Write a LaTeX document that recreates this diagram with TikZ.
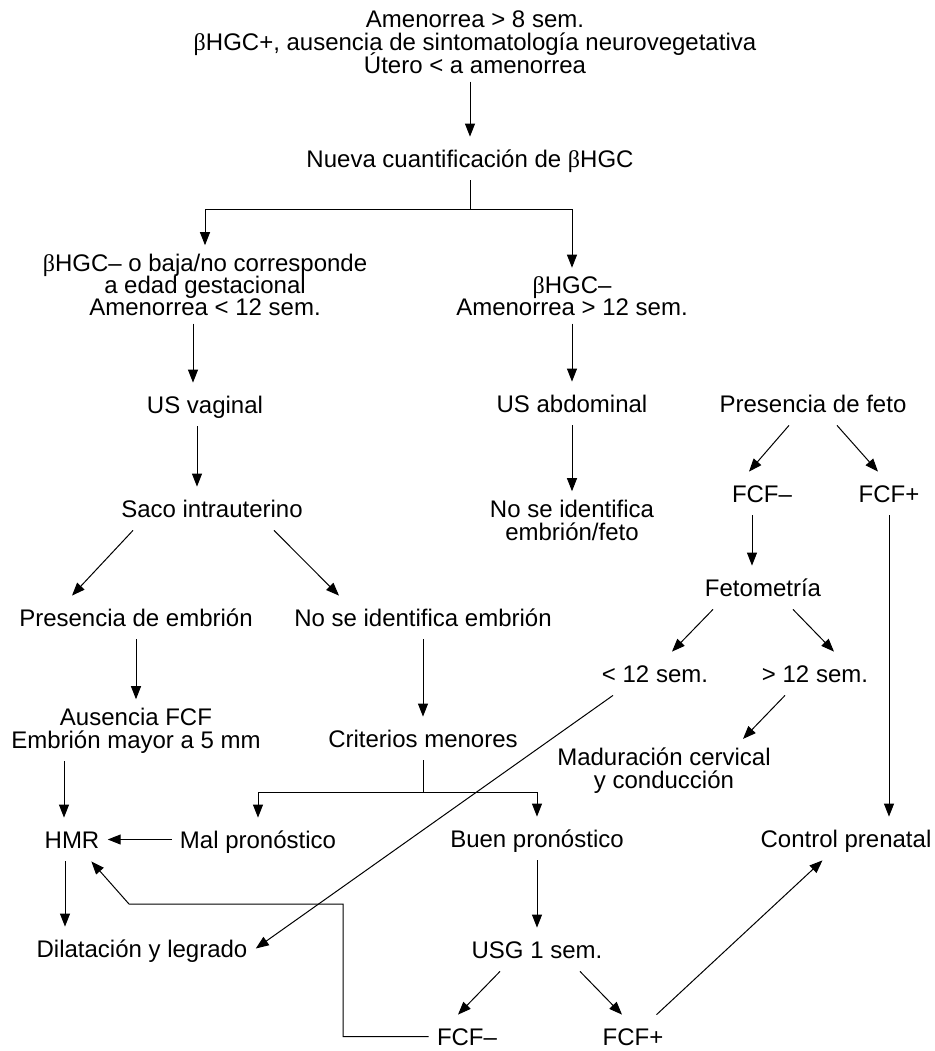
\documentclass[tikz,border=0pt]{standalone}
\usepackage{fontspec}
\setmainfont{Liberation Sans}
\newfontfamily\betafont{Liberation Serif}
\usetikzlibrary{arrows.meta, calc}
\newcommand{\bHGC}{{\betafont β}HGC}
\newcommand{\flatlines}{\lineskiplimit=-6pt\relax}

\begin{document}
\begin{tikzpicture}
                [x=0.5pt, y=-0.5pt,
                txt/.style={font=\fontsize{12pt}{11.5pt}\selectfont\flatlines, inner xsep=4pt, inner ysep=4pt, anchor=base},
                one/.style={txt, text height=11pt, text depth=2.5pt},
                many/.style={txt, align=center},
                tight/.style={many, font=\fontsize{12pt}{11pt}\selectfont\flatlines},
                arr/.style={-{Triangle[length=6.5pt, width=5pt]}, line width=0.5pt},
                lin/.style={line width=0.5pt}]
                \useasboundingbox (0,0) rectangle (935,1051);
                % nodes (multi-line ones sit on their last line)
                \node[many]  (top)    at (475,73)   {Amenorrea > 8 sem.\\ \bHGC+, ausencia de sintomatología neurovegetativa\\ Útero < a amenorrea};
                \node[one]   (nueva)  at (470,167)  {Nueva cuantificación de \bHGC};
                \node[tight] (bneg)   at (205,315)  {\bHGC– o baja/no corresponde\\ a edad gestacional\\ Amenorrea < 12 sem.};
                \node[tight] (bnegb)  at (572,315)  {\bHGC–\\ Amenorrea > 12 sem.};
                \node[one]   (usv)    at (205,413)  {US vaginal};
                \node[one]   (usa)    at (572,412)  {US abdominal};
                \node[one]   (pfeto)  at (813,412)  {Presencia de feto};
                \node[many]  (noid)   at (572,540)  {No se identifica\\ embrión/feto};
                \node[one]   (fcfn)   at (762,502)  {FCF–};
                \node[one]   (fcfp)   at (889,502)  {FCF+};
                \node[one]   (feto)   at (763,596)  {Fetometría};
                \node[one]   (men12)  at (655,682)  {< 12 sem.};
                \node[one]   (may12)  at (815,682)  {> 12 sem.};
                \node[many]  (madur)  at (664,788)  {Maduración cervical\\ y conducción};
                \node[one]   (saco)   at (212,517)  {Saco intrauterino};
                \node[one]   (pemb)   at (136,626)  {Presencia de embrión};
                \node[one]   (noemb)  at (423,626)  {No se identifica embrión};
                \node[many]  (ausen)  at (136,748)  {Ausencia FCF\\ Embrión mayor a 5 mm};
                \node[one]   (crit)   at (423,747)  {Criterios menores};
                \node[one]   (hmr)    at (72,848)   {HMR};
                \node[one]   (mal)    at (258,848)  {Mal pronóstico};
                \node[one]   (buen)   at (537,847)  {Buen pronóstico};
                \node[one]   (control) at (846,847) {Control prenatal};
                \node[one]   (dilat)  at (142,957)  {Dilatación y legrado};
                \node[one]   (usg)    at (537,958)  {USG 1 sem.};
                \node[one]   (fcfnb)  at (467,1045) {FCF–};
                \node[one]   (fcfpb)  at (633,1045) {FCF+};
                \coordinate (s1) at (470,209);
                \coordinate (s2) at (423,792);
                \coordinate (c1) at (343,904);
                \coordinate (c2) at (129,904);
                % arrows
                \draw[arr] (top.south -| nueva) -- (nueva);
                \draw[lin] (nueva) -- (s1);
                \draw[arr] (s1) -| (bneg);
                \draw[arr] (s1) -| (bnegb);
                \draw[arr] ([xshift=-6pt]bneg.south) -- ([xshift=-6pt]usv.north);
                \draw[arr] ([xshift=-4pt]usv.south) -- ([xshift=-4pt]usv.south |- saco.north);
                \draw[arr] (bnegb) -- (usa);
                \draw[arr] (usa) -- (noid);
                \draw[arr] ([xshift=-12pt]pfeto.south) -- ([xshift=-6.5pt]fcfn.north);
                \draw[arr] ([xshift=12pt]pfeto.south) -- ([xshift=-5.5pt]fcfp.north);
                \draw[arr] ([xshift=-5pt]fcfn.south) -- ([xshift=-5pt]fcfn.south |- feto.north);
                \draw[arr] ([xshift=-25pt]feto.south) -- ([xshift=8.5pt]men12.north);
                \draw[arr] ([xshift=15pt]feto.south) -- ([xshift=9.5pt]may12.north);
                \draw[arr] ([xshift=-15pt]may12.south) -- ([xshift=39.5pt]madur.north);
                \draw[arr] (fcfp) -- (fcfp |- control.north);
                \draw[arr] ([xshift=-21pt]men12.south) -- (dilat.east);
                \draw[arr] ([xshift=-39.5pt]saco.south) -- ([xshift=-32pt]pemb.north);
                \draw[arr] ([xshift=31pt]saco.south) -- ([xshift=-42pt]noemb.north);
                \draw[arr] (pemb) -- (ausen);
                \draw[arr] (noemb) -- (crit);
                \draw[arr] ([xshift=-4pt]hmr.north |- ausen.south) -- ([xshift=-4pt]hmr.north);
                \draw[lin] (crit) -- (s2);
                \draw[arr] (s2) -| (mal);
                \draw[arr] (s2) -| (buen);
                \draw[arr] (mal) -- (hmr);
                \draw[arr] ([xshift=-3.5pt]hmr.south) -- ([xshift=-3.5pt]hmr.south |- dilat.north);
                \draw[arr] (buen) -- (usg);
                \draw[arr] ([xshift=-18.5pt]usg.south) -- ([xshift=-4.5pt]fcfnb.north);
                \draw[arr] ([xshift=21.5pt]usg.south) -- ([xshift=-5.5pt]fcfpb.north);
                \draw[arr] (fcfnb.west) -| (c1) -- (c2) -- (hmr);
                \draw[arr] (fcfpb) -- (control);
            \end{tikzpicture}
\end{document}
